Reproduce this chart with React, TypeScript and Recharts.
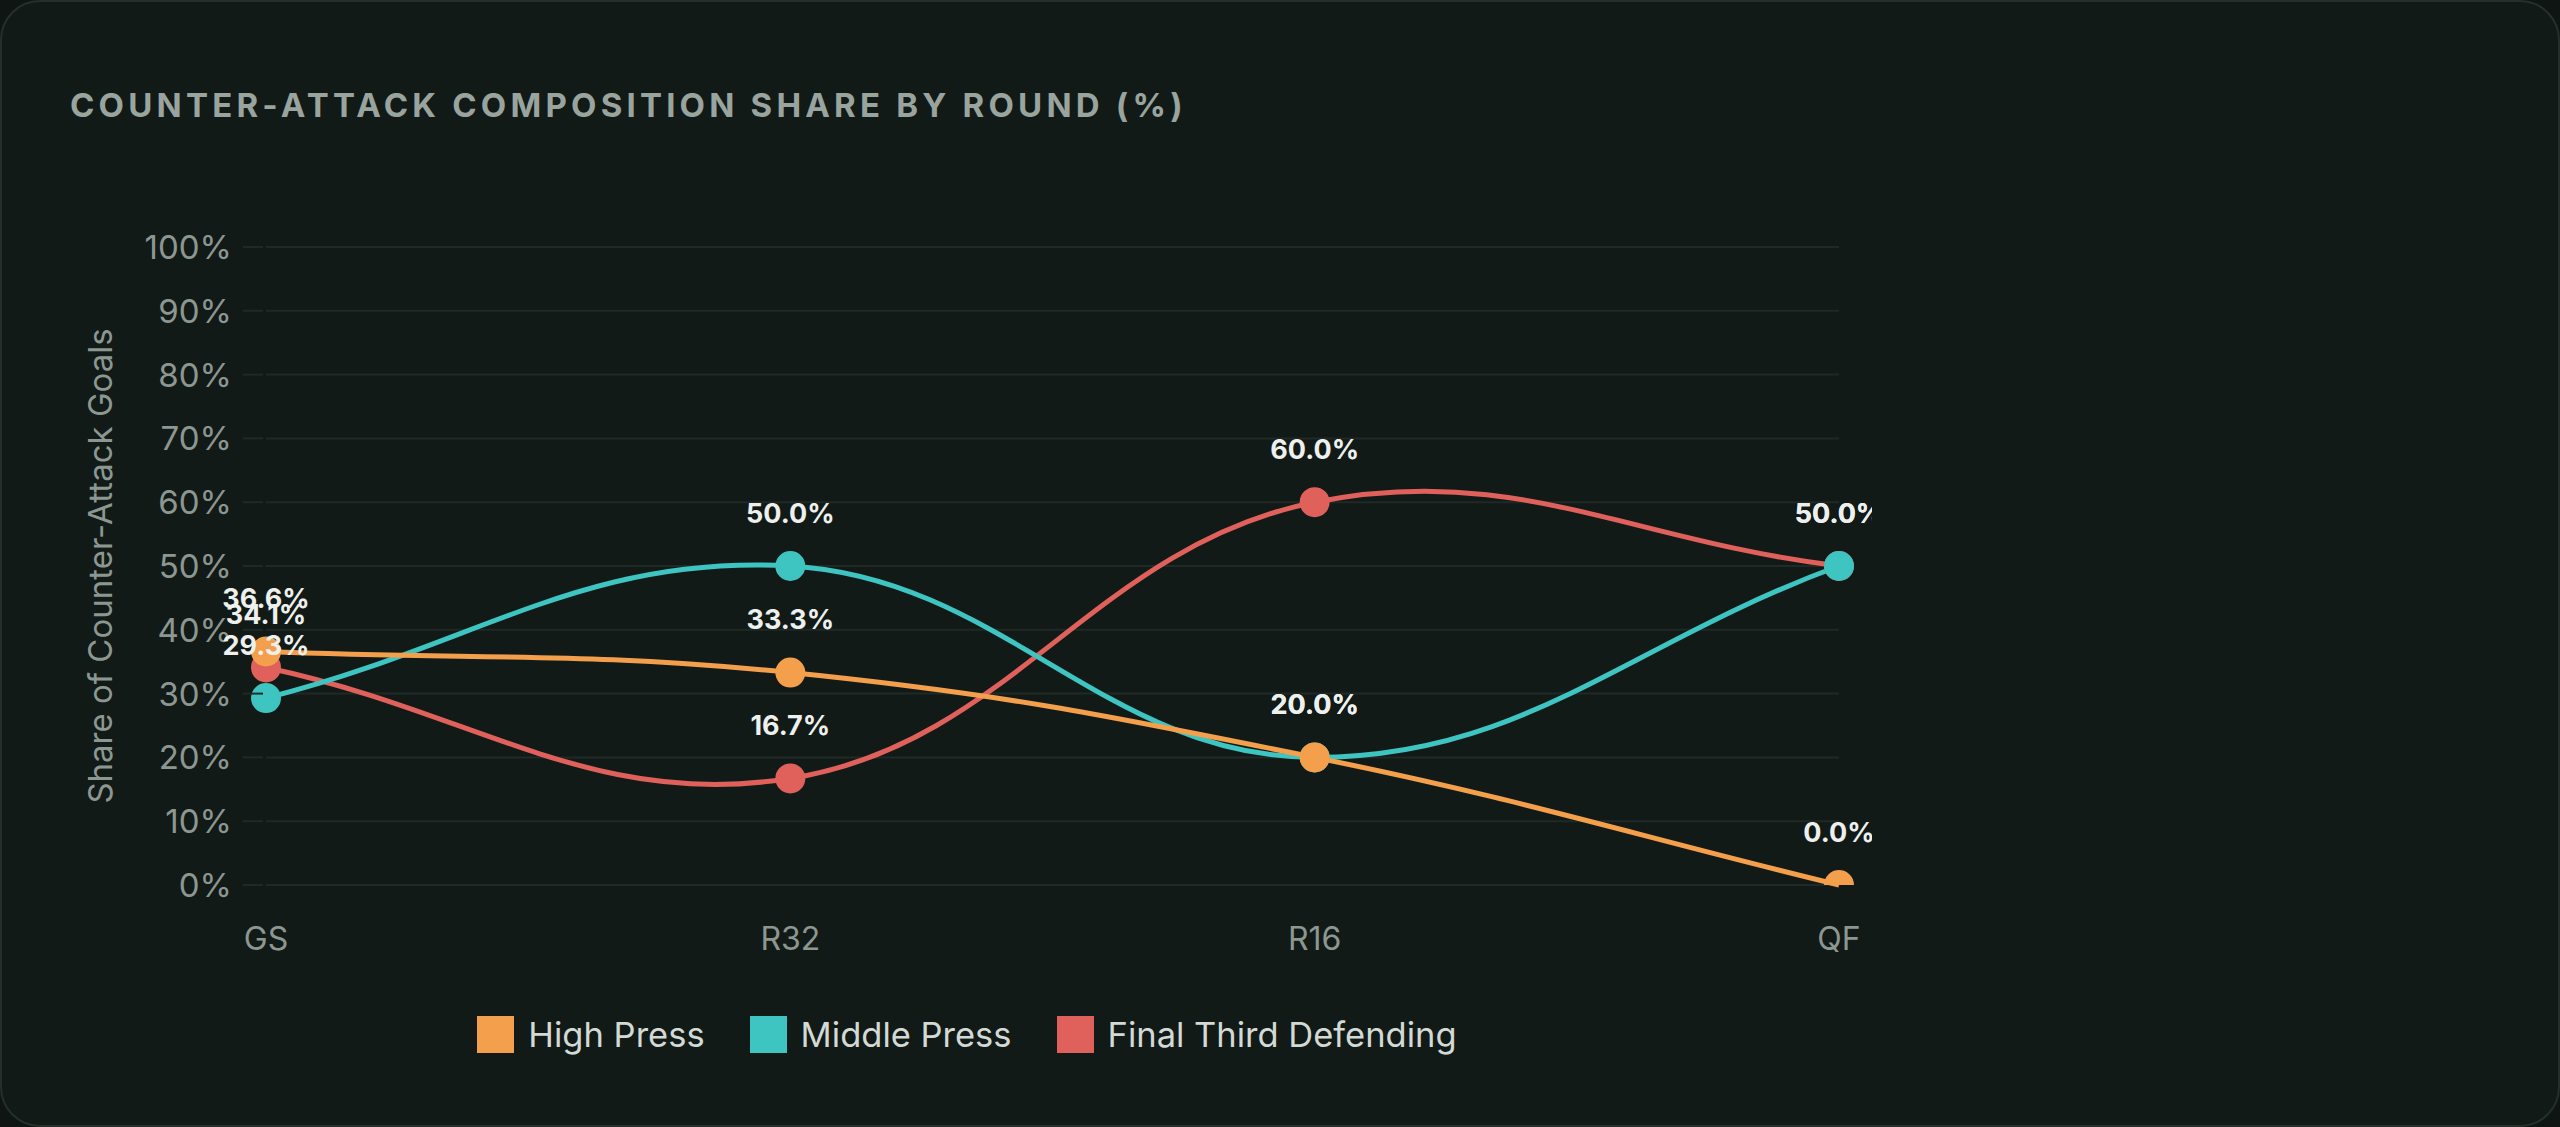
import React from "react";
import { LineChart, Line, XAxis, YAxis, CartesianGrid, LabelList } from "recharts";

const rounds = ["GS", "R32", "R16", "QF"];
const highPress = [36.6, 33.3, 20.0, 0.0];
const middlePress = [29.3, 50.0, 20.0, 50.0];
const finalThird = [34.1, 16.7, 60.0, 50.0];
const yTicks = [0, 10, 20, 30, 40, 50, 60, 70, 80, 90, 100];

const series = [
  { key: "high", name: "High Press", color: "#f49f4b" },
  { key: "middle", name: "Middle Press", color: "#3ec4c1" },
  { key: "final", name: "Final Third Defending", color: "#e0615c" },
];

const data = rounds.map((round, i) => ({
  round,
  high: highPress[i],
  middle: middlePress[i],
  final: finalThird[i],
}));

const CHART_W = 1872;
const CHART_H = 1000;
const MARGIN = { top: 247, right: 33, bottom: 85, left: 0 };
const X_AXIS_H = 30;
const PLOT_TOP = MARGIN.top;
const PLOT_BOTTOM = CHART_H - MARGIN.bottom - X_AXIS_H;

const FONT = "Inter, 'Noto Sans', sans-serif";
const TICK_COLOR = "#8d9792";
const GRID_COLOR = "#1f2925";

// cardinal-style spline like chart.js (tension 0.4)
const splineCurve = (tension: number) => (context: any) => {
  let pts: number[][] = [];
  return {
    areaStart() {},
    areaEnd() {},
    lineStart() {
      pts = [];
    },
    point(x: number, y: number) {
      pts.push([+x, +y]);
    },
    lineEnd() {
      const n = pts.length;
      if (!n) return;
      const cps = pts.map((cur, i) => {
        const prev = pts[Math.max(i - 1, 0)];
        const next = pts[Math.min(i + 1, n - 1)];
        const d01 = Math.hypot(cur[0] - prev[0], cur[1] - prev[1]);
        const d12 = Math.hypot(next[0] - cur[0], next[1] - cur[1]);
        const sum = d01 + d12;
        const fa = tension * (sum ? d01 / sum : 0);
        const fb = tension * (sum ? d12 / sum : 0);
        const dx = next[0] - prev[0];
        const dy = next[1] - prev[1];
        return {
          c1: [cur[0] - fa * dx, cur[1] - fa * dy],
          c2: [cur[0] + fb * dx, cur[1] + fb * dy],
        };
      });
      context.moveTo(pts[0][0], pts[0][1]);
      for (let i = 1; i < n; i++) {
        context.bezierCurveTo(
          cps[i - 1].c2[0], cps[i - 1].c2[1],
          cps[i].c1[0], cps[i].c1[1],
          pts[i][0], pts[i][1]
        );
      }
    },
  };
};

const curve = splineCurve(0.4);

const YTick = (props: any) => {
  const { x, y, payload } = props;
  return (
    <g>
      <line x1={x + 11} x2={x + 31} y1={y} y2={y} stroke={GRID_COLOR} strokeWidth={2} />
      <text x={x} y={y} textAnchor="end" dominantBaseline="central" fill={TICK_COLOR} fontSize={33}>
        {payload.value}%
      </text>
    </g>
  );
};

const makeDot = (color: string) => (props: any) => {
  const { cx, cy, index, dataKey } = props;
  const id = `dclip-${dataKey}-${index}`;
  return (
    <g key={id}>
      <clipPath id={id}>
        <rect x={cx - 40} y={PLOT_TOP} width={80} height={PLOT_BOTTOM - PLOT_TOP} />
      </clipPath>
      <circle cx={cx} cy={cy} r={14} fill={color} stroke={color} strokeWidth={2} clipPath={`url(#${id})`} />
    </g>
  );
};

const ValueLabel = (props: any) => {
  const x = props.x ?? props.viewBox?.x;
  const y = props.y ?? props.viewBox?.y;
  if (x == null || y == null) return null;
  return (
    <text
      x={x}
      y={y - 53}
      textAnchor="middle"
      dominantBaseline="central"
      fill="#eef0ee"
      fontSize={27}
      fontWeight={700}
    >
      {Number(props.value).toFixed(1)}%
    </text>
  );
};

export default function App() {
  const drawOrder = [...series].reverse();
  return (
    <div
      style={{
        position: "absolute",
        left: 0,
        top: 0,
        width: 2560,
        height: 1127,
        background: "#0e1512",
        fontFamily: FONT,
        overflow: "hidden",
      }}
    >
      <div
        style={{
          position: "absolute",
          inset: 0,
          background: "#121a17",
          border: "2px solid #25302b",
          borderRadius: 40,
          boxSizing: "border-box",
        }}
      />
      <div
        style={{
          position: "absolute",
          left: 70,
          top: 89,
          fontSize: 33,
          lineHeight: 1,
          fontWeight: 700,
          letterSpacing: 4.2,
          color: "#9aa49e",
          whiteSpace: "nowrap",
        }}
      >
        COUNTER-ATTACK COMPOSITION SHARE BY ROUND (%)
      </div>
      <div style={{ position: "absolute", left: 0, top: 0 }}>
        <LineChart width={CHART_W} height={CHART_H} data={data} margin={MARGIN}>
          <CartesianGrid vertical={false} stroke={GRID_COLOR} strokeWidth={2} />
          <XAxis
            dataKey="round"
            height={X_AXIS_H}
            axisLine={false}
            tickLine={false}
            tickSize={0}
            tickMargin={42}
            padding={{ left: 0, right: 0 }}
            tick={{ fill: TICK_COLOR, fontSize: 32 }}
          />
          <YAxis
            type="number"
            domain={[0, 100]}
            ticks={yTicks}
            width={266}
            axisLine={false}
            tickLine={false}
            tickSize={0}
            tickMargin={34}
            tick={<YTick />}
            label={{
              value: "Share of Counter-Attack Goals",
              angle: -90,
              position: "center",
              dx: -33,
              fill: TICK_COLOR,
              fontSize: 33,
            }}
          />
          {drawOrder.map((s) => (
            <Line
              key={s.key}
              dataKey={s.key}
              name={s.name}
              type={curve as any}
              stroke={s.color}
              strokeWidth={5}
              dot={makeDot(s.color)}
              activeDot={false}
              isAnimationActive={false}
            />
          ))}
          {series.map((s) => (
            <Line
              key={`${s.key}-labels`}
              dataKey={s.key}
              stroke="none"
              dot={false}
              activeDot={false}
              legendType="none"
              isAnimationActive={false}
            >
              <LabelList dataKey={s.key} content={<ValueLabel />} />
            </Line>
          ))}
        </LineChart>
      </div>
      <div
        style={{
          position: "absolute",
          left: 0,
          top: 1034 - 22,
          width: 1934,
          height: 44,
          display: "flex",
          justifyContent: "center",
          alignItems: "center",
          gap: 45,
        }}
      >
        {series.map((s) => (
          <div key={s.key} style={{ display: "flex", alignItems: "center", gap: 14 }}>
            <span
              style={{
                display: "inline-block",
                width: 37,
                height: 37,
                background: s.color,
                border: `2px solid ${s.color}`,
                boxSizing: "border-box",
              }}
            />
            <span style={{ fontSize: 34.5, color: "#d3d9d5", whiteSpace: "nowrap" }}>{s.name}</span>
          </div>
        ))}
      </div>
    </div>
  );
}
